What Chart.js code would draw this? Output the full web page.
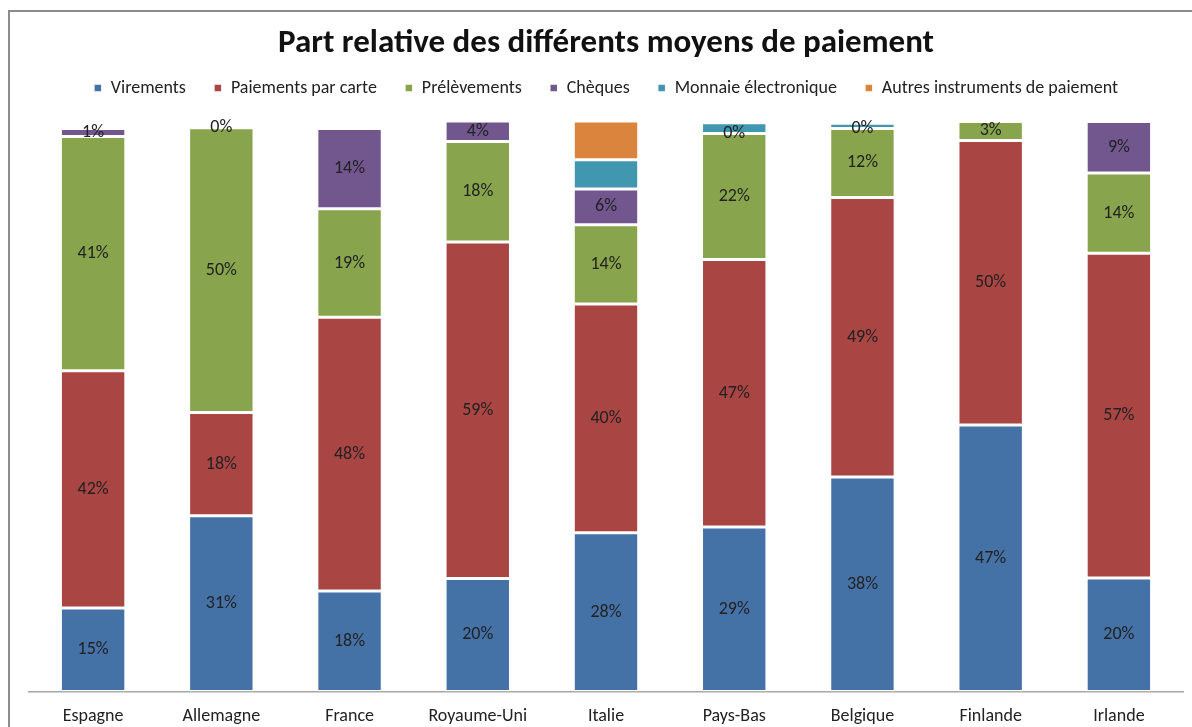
<!DOCTYPE html>
<html>
<head>
<meta charset="utf-8">
<script src="https://cdn.jsdelivr.net/npm/chart.js@4/dist/chart.umd.min.js"></script>
<style>
  body { margin: 0; background: #fff; }
  #wrap { position: relative; width: 1192px; height: 727px; overflow: hidden; }
  #cadre { position: absolute; left: 8px; top: 10px; width: 1300px; height: 800px; border: 2px solid #8c8c8c; pointer-events: none; }
</style>
</head>
<body>
<div id="wrap">
  <canvas id="graphique" width="1192" height="727"></canvas>
  <div id="cadre"></div>
</div>
<script>
// Pays
const pays = ["Espagne", "Allemagne", "France", "Royaume-Uni", "Italie", "Pays-Bas", "Belgique", "Finlande", "Irlande"];

// Parts en %
const virements    = [14.6, 30.8, 17.6, 19.8, 27.8, 28.8, 37.6, 46.7, 19.9];
const cartes       = [41.6, 18.1, 48.0, 59.0, 40.1, 46.9, 49.0, 49.9, 56.9];
const prelevements = [41.1, 49.9, 19.0, 17.6, 13.9, 22.1, 12.1, 3.3, 14.1];
const cheques      = [1.4, 0, 14.1, 3.6, 6.3, 0, 0, null, 9.0];
const monnaie      = [0, null, 0.4, null, 5.1, 1.9, 0.9, null, null];
const autres       = [0.3, null, 0.3, null, 6.8, null, null, null, null];

const police = "Carlito, 'Liberation Sans', sans-serif";

// Étiquettes de valeurs au centre des segments (4 premières séries)
const etiquettes = {
    id: "etiquettes",
    afterDatasetsDraw(chart) {
        const ctx = chart.ctx;
        ctx.save();
        ctx.font = "18px " + police;
        ctx.fillStyle = "#222";
        ctx.textAlign = "center";
        ctx.textBaseline = "middle";
        chart.data.datasets.forEach(function (ds, i) {
            if (!ds.avecEtiquette) return;
            const meta = chart.getDatasetMeta(i);
            meta.data.forEach(function (bar, j) {
                const v = ds.data[j];
                if (v === null || v === undefined) return;
                const y = (bar.y + bar.base) / 2;
                ctx.fillText(Math.round(v) + "%", bar.x, y);
            });
        });
        ctx.restore();
    }
};

// Un peu d'espace sous la légende
const espaceLegende = {
    id: "espaceLegende",
    beforeInit(chart) {
        const fitOrig = chart.legend.fit;
        chart.legend.fit = function () {
            fitOrig.bind(chart.legend)();
            this.height += 14;
        };
    }
};

function serie(label, data, couleur, avecEtiquette) {
    return {
        label: label,
        data: data,
        backgroundColor: couleur,
        borderColor: "#ffffff",
        borderWidth: 1.5,
        borderSkipped: false,
        avecEtiquette: avecEtiquette
    };
}

new Chart(document.getElementById("graphique"), {
    type: "bar",
    data: {
        labels: pays,
        datasets: [
            serie("Virements", virements, "#4471a6", true),
            serie("Paiements par carte", cartes, "#a94543", true),
            serie("Prélèvements", prelevements, "#88a44c", true),
            serie("Chèques", cheques, "#71578e", true),
            serie("Monnaie électronique", monnaie, "#4197af", false),
            serie("Autres instruments de paiement", autres, "#db843d", false)
        ]
    },
    options: {
        responsive: false,
        animation: false,
        layout: { padding: { left: 29, right: 9, top: 0, bottom: -14 } },
        datasets: { bar: { barPercentage: 0.51, categoryPercentage: 1 } },
        scales: {
            x: {
                stacked: true,
                grid: { display: false, drawTicks: false },
                border: { display: true, color: "#a6a6a6", width: 1.5 },
                ticks: { color: "#222", font: { size: 18, family: police }, padding: 14 }
            },
            y: {
                stacked: true,
                display: false,
                min: 0,
                max: 100
            }
        },
        plugins: {
            title: {
                display: true,
                text: "Part relative des différents moyens de paiement",
                color: "#111",
                font: { size: 33, weight: "bold", family: police, lineHeight: 1 },
                padding: { top: 27.5, bottom: -9.5 }
            },
            legend: {
                display: true,
                labels: {
                    color: "#222",
                    font: { size: 18, family: police },
                    boxWidth: 8,
                    boxHeight: 8,
                    padding: 28
                }
            },
            tooltip: { enabled: false }
        }
    },
    plugins: [etiquettes, espaceLegende]
});
</script>
</body>
</html>
